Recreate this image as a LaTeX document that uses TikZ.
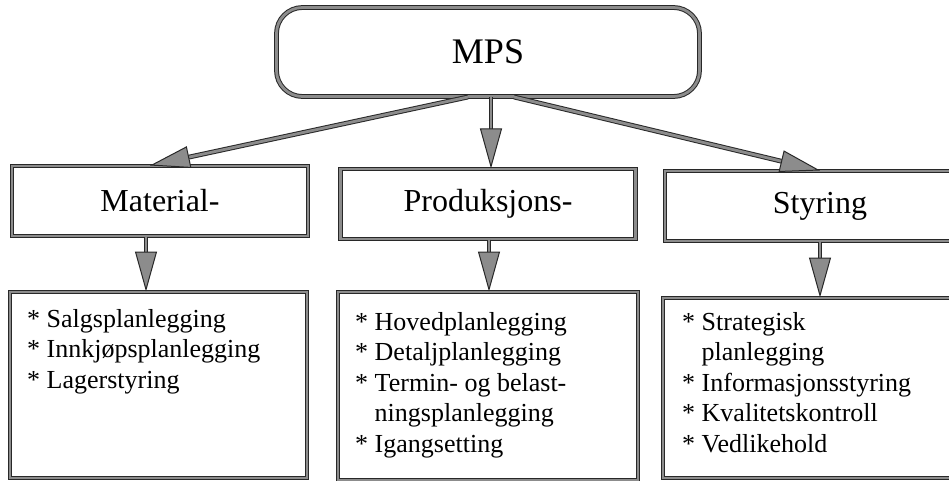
\documentclass[tikz,border=0pt]{standalone}
\usepackage{fontspec}
\setmainfont{Liberation Serif}
\usepackage{tikz}
\usetikzlibrary{positioning, arrows.meta}
\definecolor{ScanInk}{RGB}{40,40,40}
\definecolor{ScanGray}{RGB}{140,140,140}

\begin{document}
\begin{tikzpicture}[x=1pt, y=-1pt,
          frame/.style={draw=ScanInk, line width=1pt,
                        double=ScanGray, double distance=2.8pt},
          hd/.style={frame, rectangle, inner sep=0pt,
                     font=\fontsize{32}{36}\selectfont},
          lst/.style={frame, rectangle, inner sep=0pt},
          itm/.style={anchor=north west, align=left, inner sep=0pt,
                      font=\fontsize{26}{30.5}\selectfont},
          conn/.style={frame,
                       -{Triangle[length=40pt, width=22pt, fill=ScanGray]}}
        ]
        \useasboundingbox (0,0) rectangle (949,481);
        \clip (0,0) rectangle (949,481);

        % Top node
        \node[frame, rounded corners=26pt, minimum width=423pt,
              minimum height=89pt, font=\fontsize{36}{40}\selectfont]
              (mps) at (488, 52) {MPS};

        % Second level
        \foreach \n/\x/\y/\w/\t in {
          mat/160/201/296/Material-,
          prod/488/204/295/Produksjons-,
          sty/820/206/310/Styring} {
          \node[hd, minimum width=\w pt, minimum height=70pt]
                (\n) at (\x, \y) {\t};
        }

        % Lists
        \node[lst, minimum width=297pt, minimum height=186pt]
              (matlist) at (158.5, 385) {};
        \node[lst, minimum width=300pt, minimum height=188pt]
              (prodlist) at (488, 386) {};
        \node[lst, minimum width=312pt, minimum height=180pt]
              (stylist) at (819, 388) {};

        \node[itm] (matitems) at (27, 309)
              {* Salgsplanlegging\\* Innkjøpsplanlegging\\* Lagerstyring};
        \node[itm] (proditems) at (355, 312)
              {* Hovedplanlegging\\* Detaljplanlegging\\
               * Termin- og belast-\\\hphantom{* }ningsplanlegging\\
               * Igangsetting};
        \node[itm] (styitems) at (682, 312)
              {* Strategisk\\\hphantom{* }planlegging\\
               * Informasjonsstyring\\* Kvalitetskontroll\\* Vedlikehold};

        % Arrows from MPS
        \draw[conn] ([xshift=-20pt]mps.south) -- ([xshift=-10pt]mat.north);
        \draw[conn] ([xshift=3pt]mps.south) -- ([xshift=3pt]prod.north);
        \draw[conn] ([xshift=26pt]mps.south) -- (sty.north);

        % Arrows down to the lists
        \foreach \a/\b/\dx in {mat/matlist/-14, prod/prodlist/1, sty/stylist/0} {
          \draw[conn] ([xshift=\dx pt]\a.south) -- ([xshift=\dx pt]\a.south |- \b.north);
        }
      \end{tikzpicture}
\end{document}
